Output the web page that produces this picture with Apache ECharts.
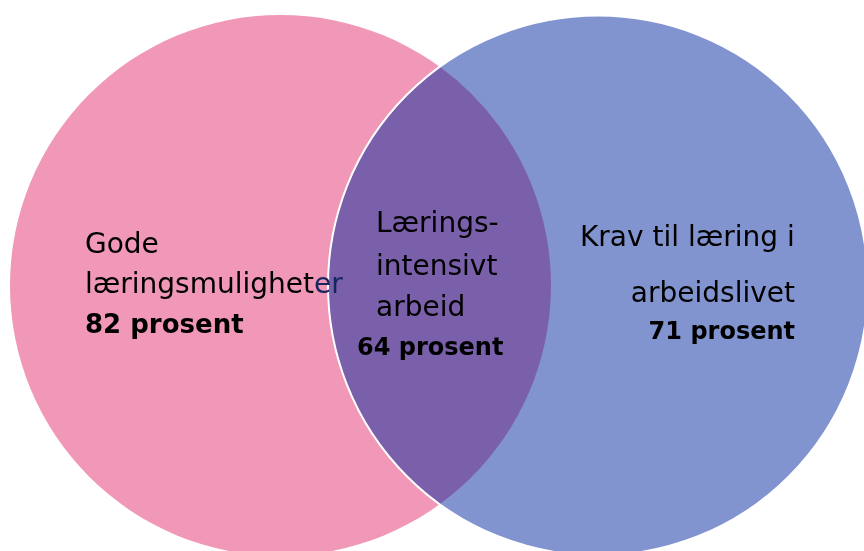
<!DOCTYPE html>
<html>
<head>
<meta charset="utf-8">
<script src="https://cdn.jsdelivr.net/npm/echarts@6/dist/echarts.min.js"></script>
<style>
  html, body { margin: 0; padding: 0; background: #fff; }
  #venn { width: 864px; height: 551px; }
</style>
</head>
<body>
<div id="venn"></div>
<script>
// sets (left, right) and their overlap
var setNames = ['Gode læringsmuligheter', 'Krav til læring i arbeidslivet'];
var setShares = [82, 71];
var overlapName = 'Lærings-intensivt arbeid';
var overlapShare = 64;
// circle geometry in chart units
var circleX = [280.5, 598];
var circleY = [265.5, 265.5];
var circleR = [270.5, 270];

var colors = ['#F197B7', '#8294CF'];
var overlapColor = '#7A5FAA';
var FONT = '"DejaVu Sans"';

var chart = echarts.init(document.getElementById('venn'));

var circles = circleX.map(function (x, i) { return [x, circleY[i], circleR[i]]; });

function renderCircles(params, api) {
  var i = params.dataIndex;
  var c = api.coord([api.value(0), api.value(1)]);
  var r = api.size([api.value(2), 0])[0];
  return {
    type: 'circle',
    shape: { cx: c[0], cy: c[1], r: r },
    style: { fill: colors[i] },
    z2: i
  };
}

// lens shaped overlap drawn from both circles
function renderOverlap(params, api) {
  var a = api.coord([circleX[0], circleY[0]]);
  var b = api.coord([circleX[1], circleY[1]]);
  var ra = api.size([circleR[0], 0])[0];
  var rb = api.size([circleR[1], 0])[0];
  var d = b[0] - a[0];
  var xm = (d * d + ra * ra - rb * rb) / (2 * d);
  var h = Math.sqrt(ra * ra - xm * xm);
  var px = a[0] + xm;
  var top = [px, a[1] - h], bot = [px, a[1] + h];
  var path = 'M' + top[0] + ' ' + top[1] +
    ' A' + rb + ' ' + rb + ' 0 0 0 ' + bot[0] + ' ' + bot[1] +
    ' A' + ra + ' ' + ra + ' 0 0 0 ' + top[0] + ' ' + top[1] + ' Z';
  return {
    type: 'group',
    children: [
      { type: 'path', shape: { pathData: path }, style: { fill: overlapColor } },
      { type: 'circle', shape: { cx: b[0], cy: b[1], r: rb }, style: { fill: null, stroke: '#fff', lineWidth: 2 } }
    ]
  };
}

function txt(x, y, text, opts) {
  opts = opts || {};
  return {
    type: 'text',
    z: 10,
    style: {
      x: x, y: y, text: text,
      font: (opts.bold ? 'bold ' : '') + (opts.size || 28) + 'px ' + FONT,
      fill: '#000',
      textAlign: opts.align || 'left',
      textVerticalAlign: 'middle',
      rich: opts.rich
    }
  };
}

var leftWords = setNames[0].split(' ');

option = {
  animation: false,
  grid: { left: 0, right: 0, top: 0, bottom: 0 },
  xAxis: { type: 'value', min: 0, max: 864, show: false },
  yAxis: { type: 'value', min: 0, max: 551, show: false },
  series: [
    { type: 'custom', renderItem: renderCircles, data: circles, silent: true },
    { type: 'custom', renderItem: renderOverlap, data: [[0]], silent: true, z: 3 }
  ],
  graphic: [
    txt(85, 246, leftWords[0]),
    txt(85, 286, 'læringsmulighet{n|er}', { rich: { n: { fill: '#16265F', font: '28px ' + FONT } } }),
    txt(85, 326, setShares[0] + ' prosent', { bold: true, size: 26 }),
    txt(376, 225, 'Lærings-'),
    txt(376, 268, 'intensivt'),
    txt(376, 309, 'arbeid'),
    txt(357, 349, overlapShare + ' prosent', { bold: true, size: 24 }),
    txt(580, 239, 'Krav til læring i'),
    txt(795, 295, 'arbeidslivet', { align: 'right' }),
    txt(795, 333, setShares[1] + ' prosent', { bold: true, size: 24, align: 'right' })
  ]
};

chart.setOption(option);
</script>
</body>
</html>
